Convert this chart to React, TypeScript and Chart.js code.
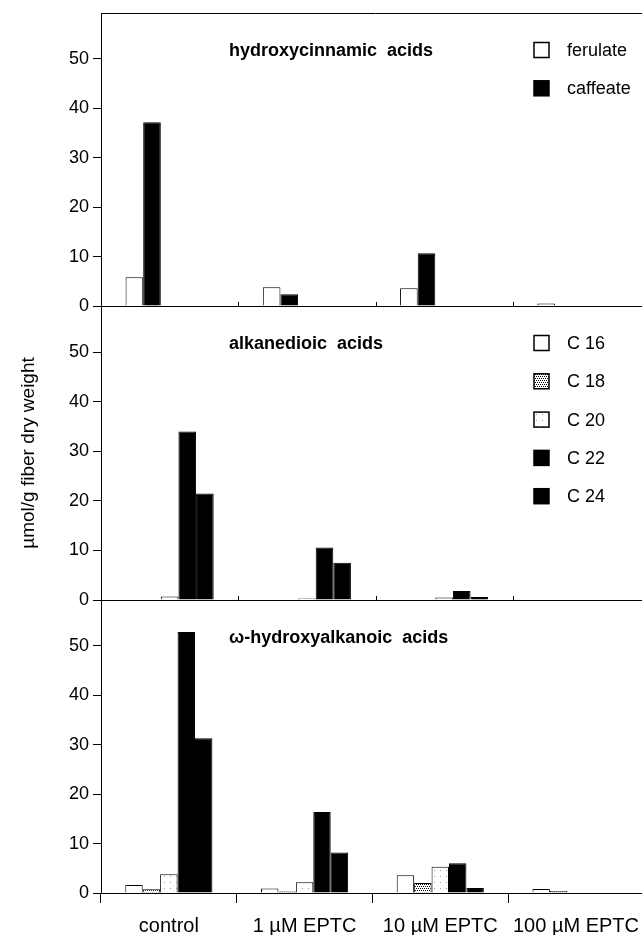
import React, { useEffect, useRef } from 'react';
import { Chart, registerables } from 'chart.js';

Chart.register(...registerables);

const FONT = '"Liberation Sans", Arial, Helvetica, sans-serif';

const categories = ['control', '1 µM EPTC', '10 µM EPTC', '100 µM EPTC'];
const Y_MAX = 59.3;
const Y_STEP = 10;

const panelTitles = ['hydroxycinnamic  acids', 'alkanedioic  acids', 'ω-hydroxyalkanoic  acids'];
const yAxisTitle = 'µmol/g fiber dry weight';

// hydroxycinnamic acids
const hcLabels = ['ferulate', 'caffeate'];
const ferulate = [5.8, 3.8, 3.6, 0.5];
const caffeate = [37.2, 2.4, 10.7, 0];

// chain-length series labels
const chainLabels = ['C 16', 'C 18', 'C 20', 'C 22', 'C 24'];

// alkanedioic acids
const diC16 = [0.1, 0.1, 0.1, 0.1];
const diC18 = [0.1, 0.1, 0.1, 0];
const diC20 = [0.7, 0.3, 0.5, 0.1];
const diC22 = [34.0, 10.6, 1.8, 0.1];
const diC24 = [21.5, 7.5, 0.6, 0];

// omega-hydroxyalkanoic acids
const ohC16 = [1.6, 0.9, 3.6, 0.8];
const ohC18 = [0.75, 0.3, 2.0, 0.4];
const ohC20 = [3.8, 2.2, 5.3, 0.1];
const ohC22 = [52.8, 16.4, 6.0, 0.1];
const ohC24 = [31.3, 8.2, 1.0, 0.1];

const emptySeries = [null, null, null, null];

function makePattern(kind: 'dots' | 'sparse'): CanvasPattern | string {
  const c = document.createElement('canvas');
  const s = kind === 'dots' ? 4 : 6;
  c.width = s;
  c.height = s;
  const g = c.getContext('2d');
  if (!g) return '#fff';
  g.fillStyle = '#fff';
  g.fillRect(0, 0, s, s);
  if (kind === 'dots') {
    g.fillStyle = '#000';
    g.fillRect(0, 0, 1, 1);
    g.fillRect(2, 0, 1, 1);
    g.fillRect(1, 2, 1, 1);
    g.fillRect(3, 2, 1, 1);
  } else {
    g.fillStyle = '#999';
    g.fillRect(2, 2, 1, 1);
  }
  const p = g.createPattern(c, 'repeat');
  return p || '#fff';
}

const panelDecor = {
  id: 'panelDecor',
  afterDraw(chart: any, _args: any, opts: any) {
    const { ctx, chartArea } = chart;
    const { left, top, right, bottom } = chartArea;
    ctx.save();
    ctx.strokeStyle = '#000';
    ctx.lineWidth = 1;
    if (opts.topBorder) {
      ctx.beginPath();
      ctx.moveTo(left, Math.round(top) + 0.5);
      ctx.lineTo(right, Math.round(top) + 0.5);
      ctx.stroke();
    }
    if (opts.innerTicks) {
      const xs = chart.scales.x;
      ctx.beginPath();
      for (let i = 1; i < categories.length; i++) {
        const px = Math.round((xs.getPixelForValue(i - 1) + xs.getPixelForValue(i)) / 2) + 0.5;
        ctx.moveTo(px, bottom);
        ctx.lineTo(px, bottom - 4);
      }
      ctx.stroke();
    }
    // panel title
    ctx.fillStyle = '#000';
    ctx.textBaseline = 'middle';
    ctx.textAlign = 'left';
    ctx.font = `bold 18px ${FONT}`;
    ctx.fillText(opts.title, left + 128, top + 38);
    // legend
    ctx.font = `18px ${FONT}`;
    (opts.legend || []).forEach((item: any, i: number) => {
      const cy = top + 37 + i * 38.3;
      const bx = left + 433;
      ctx.fillStyle = item.fill;
      ctx.fillRect(bx, cy - 7.5, 15, 15);
      ctx.lineWidth = 1.5;
      ctx.strokeStyle = '#000';
      ctx.strokeRect(bx, cy - 7.5, 15, 15);
      ctx.fillStyle = '#000';
      ctx.fillText(item.label, left + 466, cy + 1);
    });
    ctx.restore();
  },
};

function barSet(label: string, data: (number | null)[], fill: any) {
  return {
    label,
    data,
    backgroundColor: fill,
    borderColor: '#000',
    borderWidth: 1,
    borderSkipped: 'start',
  };
}

const OFF = 20;
const CW = 650;
const CH = 980;

function makeConfig(panel: number, fills: any) {
  const isBottom = panel === 2;
  const isMiddle = panel === 1;
  // panel chart-area bounds (page px)
  const bounds = [
    [13, 306],
    [306, 600],
    [600, 893],
  ][panel];
  const xAxisH = isBottom ? 50 : 0;
  const padTop = bounds[0] + OFF;
  const padBottom = CH - (bounds[1] + OFF) - xAxisH;

  let datasets: any[];
  let legend: any[];
  if (panel === 0) {
    datasets = [
      barSet(hcLabels[0], ferulate, '#fff'),
      barSet(hcLabels[1], caffeate, '#000'),
      barSet('', emptySeries, '#fff'),
      barSet('', emptySeries, '#fff'),
      barSet('', emptySeries, '#fff'),
    ];
    legend = [
      { label: hcLabels[0], fill: '#fff' },
      { label: hcLabels[1], fill: '#000' },
    ];
  } else {
    const series = panel === 1 ? [diC16, diC18, diC20, diC22, diC24] : [ohC16, ohC18, ohC20, ohC22, ohC24];
    const f = ['#fff', fills.dots, fills.sparse, '#000', '#000'];
    datasets = series.map((s, i) => barSet(chainLabels[i], s, f[i]));
    legend = panel === 1 ? chainLabels.map((l, i) => ({ label: l, fill: f[i] })) : [];
  }

  return {
    type: 'bar' as const,
    data: { labels: categories, datasets },
    plugins: [panelDecor],
    options: {
      responsive: false,
      animation: false as const,
      events: [],
      layout: { padding: { top: padTop, bottom: padBottom, left: 0, right: 0 } },
      datasets: { bar: { categoryPercentage: 0.642, barPercentage: 1 } },
      plugins: {
        legend: { display: false },
        tooltip: { enabled: false },
        panelDecor: {
          title: panelTitles[panel],
          legend,
          topBorder: panel === 0,
          innerTicks: !isBottom,
        },
      },
      scales: {
        x: {
          type: 'category' as const,
          offset: true,
          afterFit: (s: any) => {
            s.height = xAxisH;
          },
          grid: {
            display: isBottom,
            offset: true,
            drawOnChartArea: false,
            drawTicks: true,
            tickLength: 10,
            color: '#000',
            lineWidth: 1,
          },
          border: { display: true, color: '#000', width: 1 },
          ticks: {
            display: isBottom,
            color: '#000',
            font: { family: FONT, size: 20 },
            padding: 11,
            maxRotation: 0,
            autoSkip: false,
          },
        },
        y: {
          type: 'linear' as const,
          min: 0,
          max: Y_MAX,
          afterFit: (s: any) => {
            s.width = 101;
          },
          ticks: {
            stepSize: Y_STEP,
            includeBounds: false,
            color: '#000',
            font: { family: FONT, size: 18 },
            padding: 4,
          },
          grid: {
            drawOnChartArea: false,
            drawTicks: true,
            tickLength: 8,
            color: '#000',
            lineWidth: 1,
          },
          border: { display: true, color: '#000', width: 1 },
          title: {
            display: isMiddle,
            text: yAxisTitle,
            color: '#000',
            font: { family: FONT, size: 19 },
            padding: { top: 17, bottom: 0 },
          },
        },
      },
    },
  };
}

export default function App() {
  const r0 = useRef<HTMLCanvasElement>(null);
  const r1 = useRef<HTMLCanvasElement>(null);
  const r2 = useRef<HTMLCanvasElement>(null);

  useEffect(() => {
    const fills = { dots: makePattern('dots'), sparse: makePattern('sparse') };
    const refs = [r0, r1, r2];
    const charts = refs.map((r, i) => new Chart(r.current as HTMLCanvasElement, makeConfig(i, fills) as any));
    return () => charts.forEach((c) => c.destroy());
  }, []);

  const canvasStyle: React.CSSProperties = {
    position: 'absolute',
    left: 0,
    top: -OFF,
    width: CW,
    height: CH,
  };

  return (
    <div
      style={{
        position: 'absolute',
        left: 0,
        top: 0,
        width: 642,
        height: 935,
        overflow: 'hidden',
        background: '#fff',
      }}
    >
      <canvas ref={r0} width={CW} height={CH} style={canvasStyle} />
      <canvas ref={r1} width={CW} height={CH} style={canvasStyle} />
      <canvas ref={r2} width={CW} height={CH} style={canvasStyle} />
    </div>
  );
}
